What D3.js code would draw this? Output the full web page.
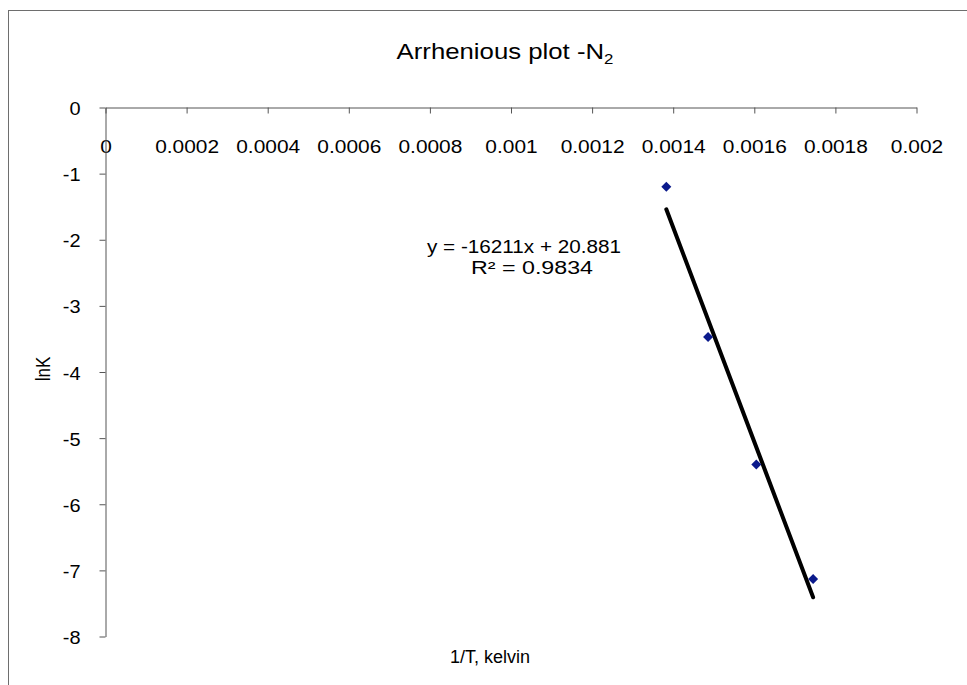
<!DOCTYPE html>
<html>
<head>
<meta charset="utf-8">
<script src="https://cdn.jsdelivr.net/npm/d3@7/dist/d3.min.js"></script>
<style>
  html, body { margin: 0; padding: 0; background: #ffffff; }
  svg { display: block; font-family: "Liberation Sans", Arial, sans-serif; }
</style>
</head>
<body>
<svg id="chart" width="967" height="685"></svg>
<script>
// ---- data ----
const invT = [0.001383, 0.001486, 0.001605, 0.001745];   // 1/T, kelvin
const lnK  = [-1.20, -3.47, -5.40, -7.13];                // lnK
const xTicks = [0, 0.0002, 0.0004, 0.0006, 0.0008, 0.001, 0.0012, 0.0014, 0.0016, 0.0018, 0.002];
const xTickLabels = ["0", "0.0002", "0.0004", "0.0006", "0.0008", "0.001", "0.0012", "0.0014", "0.0016", "0.0018", "0.002"];
const yTicks = [0, -1, -2, -3, -4, -5, -6, -7, -8];
const yTickLabels = ["0", "-1", "-2", "-3", "-4", "-5", "-6", "-7", "-8"];
const trendSlope = [-16211];
const trendIntercept = [20.881];
const equationLines = ["y = -16211x + 20.881", "R\u00B2 = 0.9834"];
const titleMain = "Arrhenious plot -N";
const titleSub = "2";
const xTitle = "1/T, kelvin";
const yTitle = "lnK";

const svg = d3.select("#chart");
const SX = 1.15; // horizontal stretch of the original picture's text

// chart border (partially outside view)
svg.append("rect")
  .attr("x", 8.5).attr("y", 10.5).attr("width", 1000).attr("height", 1000)
  .attr("fill", "#fff").attr("stroke", "#6e6e6e").attr("stroke-width", 1);

const x = d3.scaleLinear().domain([0, 0.002]).range([105.5, 916.5]);
const y = d3.scaleLinear().domain([0, -8]).range([107.5, 636.5]);

const axisColor = "#555";

// x axis (at top, y = 0)
const gx = svg.append("g").attr("transform", `translate(0,${y(0)})`)
  .call(d3.axisBottom(x).tickValues(xTicks).tickSize(6).tickSizeOuter(0)
    .tickFormat((d, i) => xTickLabels[i]).tickPadding(0));
gx.select(".domain").attr("stroke", axisColor);
gx.selectAll(".tick line").attr("stroke", axisColor);
gx.selectAll(".tick text").remove();
gx.selectAll(".tick").append("text")
  .attr("transform", `translate(0,45) scale(1.1,1)`)
  .attr("text-anchor", "middle")
  .attr("fill", "#000")
  .style("font-size", "19px")
  .text((d, i) => xTickLabels[i]);

// y axis
const gy = svg.append("g").attr("transform", `translate(${x(0)},0)`)
  .call(d3.axisLeft(y).tickValues(yTicks).tickSize(6).tickSizeOuter(0));
gy.select(".domain").attr("stroke", axisColor);
gy.selectAll(".tick line").attr("stroke", axisColor);
gy.selectAll(".tick text").remove();
gy.selectAll(".tick").append("text")
  .attr("transform", `translate(-25,7) scale(1.05,1)`)
  .attr("text-anchor", "end")
  .attr("fill", "#000")
  .style("font-size", "19px")
  .text((d, i) => yTickLabels[i]);

// trendline
const xs = d3.extent(invT);
const trend = xs.map(v => [v, trendSlope[0] * v + trendIntercept[0]]);
svg.append("path")
  .datum(trend)
  .attr("d", d3.line().x(d => x(d[0])).y(d => y(d[1])))
  .attr("fill", "none")
  .attr("stroke", "#000")
  .attr("stroke-width", 4)
  .attr("stroke-linecap", "round");

// points (diamonds)
const pts = invT.map((v, i) => [v, lnK[i]]);
svg.append("g").selectAll("path").data(pts).join("path")
  .attr("d", d3.symbol().type(d3.symbolSquare).size(50))
  .attr("transform", d => `translate(${x(d[0])},${y(d[1])}) rotate(45)`)
  .attr("fill", "#0b1a8c");

// equation label
const eqPos = [[524, 253], [532, 274]];
const eqLen = [194, 122];
svg.append("g").selectAll("text").data(equationLines).join("text")
  .attr("x", (d, i) => eqPos[i][0])
  .attr("y", (d, i) => eqPos[i][1])
  .attr("text-anchor", "middle")
  .attr("textLength", (d, i) => eqLen[i])
  .attr("lengthAdjust", "spacingAndGlyphs")
  .style("font-size", "18px")
  .attr("fill", "#000")
  .text(d => d);

// title
const title = svg.append("text")
  .attr("transform", `translate(505,59) scale(1.12,1)`)
  .attr("text-anchor", "middle")
  .style("font-size", "23px")
  .attr("fill", "#000");
title.append("tspan").text(titleMain);
title.append("tspan").attr("dy", 5).style("font-size", "15px").text(titleSub);

// axis titles
svg.append("text")
  .attr("x", 490).attr("y", 663)
  .attr("text-anchor", "middle")
  .style("font-size", "18px")
  .attr("fill", "#000")
  .text(xTitle);

svg.append("text")
  .attr("transform", `translate(50,369) scale(1.2,1) rotate(-90)`)
  .attr("text-anchor", "middle")
  .style("font-size", "17px")
  .attr("fill", "#000")
  .text(yTitle);
</script>
</body>
</html>
